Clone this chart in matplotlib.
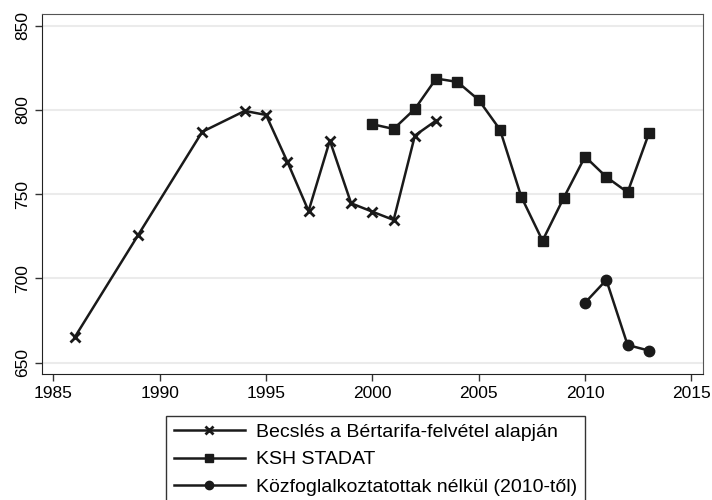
import matplotlib.pyplot as plt

plt.rcParams['font.family'] = ['Liberation Sans', 'DejaVu Sans']

# Becslés a Bértarifa-felvétel alapján
years_becs = [1986, 1989, 1992, 1994, 1995, 1996, 1997, 1998, 1999, 2000, 2001, 2002, 2003]
vals_becs = [665, 726, 787, 799.4, 797, 769.3, 740, 781.8, 744.6, 739.6, 734.7, 784.8, 793.7]

# KSH STADAT
years_ksh = [2000, 2001, 2002, 2003, 2004, 2005, 2006, 2007, 2008, 2009, 2010, 2011, 2012, 2013]
vals_ksh = [791.5, 788.7, 800.6, 818.6, 816.6, 805.9, 788.3, 748.5, 722.4, 747.9, 772.3, 760.2, 751.1, 786]

# Közfoglalkoztatottak nélkül (2010-től)
years_kozf = [2010, 2011, 2012, 2013]
vals_kozf = [685.6, 699.1, 660.5, 657.2]

x_ticks = [1985, 1990, 1995, 2000, 2005, 2010, 2015]
y_ticks = [650, 700, 750, 800, 850]

fig = plt.figure(figsize=(7.12, 5), dpi=100)
ax = fig.add_axes([0.0594, 0.252, 0.9284, 0.72])

col = '#1a1a1a'
ax.plot(years_becs, vals_becs, color=col, lw=1.8, marker='x', ms=6.5, mew=2,
        label='Becslés a Bértarifa-felvétel alapján')
ax.plot(years_ksh, vals_ksh, color=col, lw=1.8, marker='s', ms=7,
        label='KSH STADAT')
ax.plot(years_kozf, vals_kozf, color=col, lw=1.8, marker='o', ms=7.5,
        label='Közfoglalkoztatottak nélkül (2010-től)')

ax.set_xlim(1984.48, 2015.56)
ax.set_ylim(643.3, 856.9)
ax.set_xticks(x_ticks)
ax.set_yticks(y_ticks)
ax.set_yticklabels([str(v) for v in y_ticks], rotation=90, va='center')
ax.tick_params(labelsize=12.5, length=5, width=1, color='#333333', direction='out', pad=4)
ax.yaxis.grid(True, color='#ebebeb', lw=1.5)
ax.set_axisbelow(True)
for s in ['top', 'right']:
    ax.spines[s].set_color('#555555')
for s in ['left', 'bottom']:
    ax.spines[s].set_color('#222222')

leg = fig.legend(loc='upper left', bbox_to_anchor=(166 / 712, 1 - 415.7 / 500),
                 fontsize=14, frameon=True, fancybox=False, edgecolor='black',
                 handlelength=3.65, handletextpad=0.57, labelspacing=0.5,
                 borderpad=0.4, borderaxespad=0)
leg.get_frame().set_linewidth(1)
for h in leg.legend_handles:
    h.set_markersize(6)

fig.savefig('out.png', dpi=100)
